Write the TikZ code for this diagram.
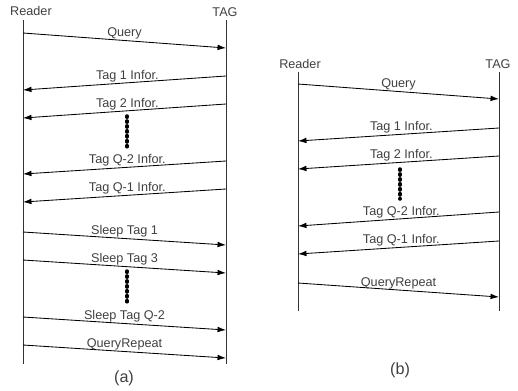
\documentclass[tikz,border=0pt]{standalone}
\usepackage{fontspec}
\setmainfont{Liberation Sans}
\usetikzlibrary{arrows.meta}

\tikzset{
  lbl/.style={font=\fontsize{9}{10}\selectfont, text=black!75, inner sep=0.6pt},
  life/.style={line width=0.6pt, black!80},
  msg/.style={-{Latex[length=6pt,width=4pt]}, line width=0.6pt},
  dotline/.style={line width=2.5pt, line cap=round, dash pattern=on 0.9pt off 2.6pt},
  sub/.style={font=\fontsize{11.5}{13}\selectfont, text=black!75},
}

\begin{document}
\begin{tikzpicture}[x=0.025cm,y=-0.025cm]
\useasboundingbox (0,0) rectangle (518,390);

% (a) lifelines
\node[lbl] (readerA) at (31,11) {Reader};
\node[lbl] (tagA) at (225,12) {TAG};
\coordinate (rAtop) at (23,20);
\coordinate (rAbot) at (23,364);
\coordinate (tAtop) at (226,20);
\coordinate (tAbot) at (226,364);
\draw[life] (rAtop) -- (rAbot);
\draw[life] (tAtop) -- (tAbot);

% (a) reader -> tag
\foreach \i/\ys/\ye/\txt in {1/33/48/Query, 2/232/245/Sleep Tag 1, 3/260/273/Sleep Tag 3,
    4/317/330/Sleep Tag Q-2, 5/345/358/QueryRepeat}{
  \coordinate (aR\i) at (rAtop |- 0,\ys);
  \coordinate (aT\i) at (tAtop |- 0,\ye);
  \draw[msg] (aR\i) -- node[lbl,above] {\txt} (aT\i);
}
% (a) tag -> reader
\foreach \i/\ys/\ye/\txt in {1/76/90/Tag 1 Infor., 2/104/118/Tag 2 Infor.,
    3/161/174/Tag Q-2 Infor., 4/189/202/Tag Q-1 Infor.}{
  \coordinate (aU\i) at (tAtop |- 0,\ys);
  \coordinate (aV\i) at (rAtop |- 0,\ye);
  \draw[msg] (aU\i) -- node[lbl,above,xshift=2pt] {\txt} (aV\i);
}
\coordinate (aD1) at (127,116);
\coordinate (aD2) at (127,147);
\coordinate (aD3) at (127,271);
\coordinate (aD4) at (127,302);
\draw[dotline] (aD1) -- (aD2);
\draw[dotline] (aD3) -- (aD4);
\node[sub] (capA) at (124,378) {(a)};

% (b) lifelines
\node[lbl] (readerB) at (300,64) {Reader};
\node[lbl] (tagB) at (498,64) {TAG};
\coordinate (rBtop) at (298,72);
\coordinate (rBbot) at (298,311);
\coordinate (tBtop) at (499,72);
\coordinate (tBbot) at (499,311);
\draw[life] (rBtop) -- (rBbot);
\draw[life] (tBtop) -- (tBbot);

% (b) reader -> tag
\foreach \i/\ys/\ye/\txt in {1/84/99/Query, 2/283/297/QueryRepeat}{
  \coordinate (bR\i) at (rBtop |- 0,\ys);
  \coordinate (bT\i) at (tBtop |- 0,\ye);
  \draw[msg] (bR\i) -- node[lbl,above] {\txt} (bT\i);
}
% (b) tag -> reader
\foreach \i/\ys/\ye/\txt in {1/128/141/Tag 1 Infor., 2/156/169/Tag 2 Infor.,
    3/212/226/Tag Q-2 Infor., 4/241/254/Tag Q-1 Infor.}{
  \coordinate (bU\i) at (tBtop |- 0,\ys);
  \coordinate (bV\i) at (rBtop |- 0,\ye);
  \draw[msg] (bU\i) -- node[lbl,above,xshift=2pt] {\txt} (bV\i);
}
\coordinate (bD1) at (400,169);
\coordinate (bD2) at (400,199);
\draw[dotline] (bD1) -- (bD2);
\node[sub] (capB) at (400,370) {(b)};
\end{tikzpicture}
\end{document}
